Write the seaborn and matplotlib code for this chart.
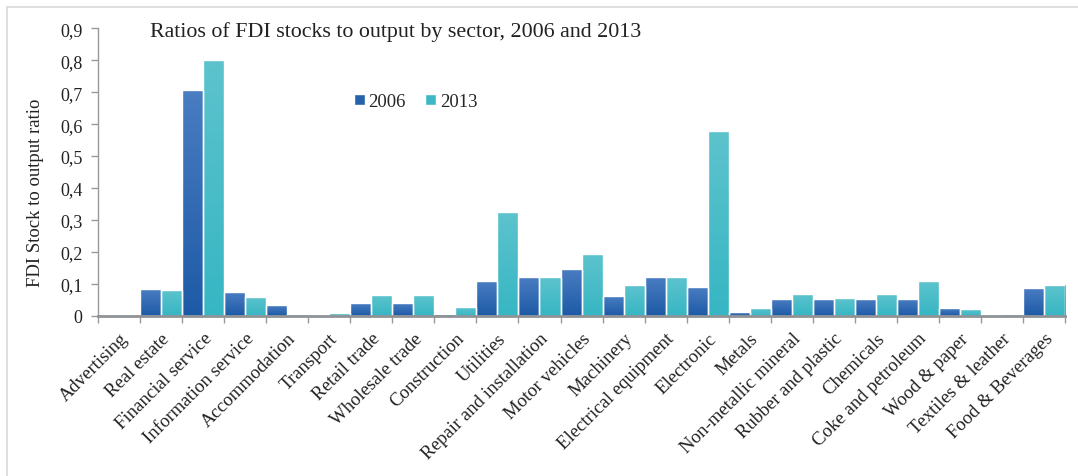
import numpy as np
import pandas as pd
import matplotlib
matplotlib.use("Agg")
import matplotlib.pyplot as plt
import seaborn as sns
from matplotlib.colors import LinearSegmentedColormap
from matplotlib.lines import Line2D
from matplotlib.ticker import FuncFormatter, FixedLocator

sectors = [
    "Advertising", "Real estate", "Financial service", "Information service",
    "Accommodation", "Transport", "Retail trade", "Wholesale trade",
    "Construction", "Utilities", "Repair and installation", "Motor vehicles",
    "Machinery", "Electrical equipment", "Electronic", "Metals",
    "Non-metallic mineral", "Rubber and plastic", "Chemicals",
    "Coke and petroleum", "Wood & paper", "Textiles & leather", "Food & Beverages",
]
ratio_2006 = [0.001, 0.084, 0.707, 0.074, 0.034, 0.001, 0.040, 0.040,
              0.005, 0.109, 0.121, 0.146, 0.062, 0.121, 0.090, 0.012,
              0.052, 0.052, 0.052, 0.052, 0.024, 0.001, 0.087]
ratio_2013 = [0.001, 0.080, 0.800, 0.059, 0.005, 0.009, 0.065, 0.065,
              0.027, 0.325, 0.121, 0.193, 0.096, 0.121, 0.578, 0.024,
              0.068, 0.055, 0.068, 0.109, 0.021, 0.005, 0.096]
years = ["2006", "2013"]

df = pd.DataFrame({
    "sector": sectors * 2,
    "year": [years[0]] * len(sectors) + [years[1]] * len(sectors),
    "ratio": ratio_2006 + ratio_2013,
})

sns.set_theme(style="white")
plt.rcParams["font.family"] = ["Liberation Serif", "DejaVu Serif"]

c06 = "#2562ab"
c13 = "#3db9c6"
palette = {"2006": c06, "2013": c13}

fig = plt.figure(figsize=(10.78, 4.77), dpi=100)
ax = fig.add_axes([0.0909, 0.336, 0.8971, 0.6026])

sns.barplot(data=df, x="sector", y="ratio", hue="year", palette=palette,
            width=1.0, gap=0, edgecolor="white", linewidth=1.0,
            saturation=1, ax=ax, legend=True)

# vertical gradient fill on each bar (lighter at the top)
grads = {
    c06: LinearSegmentedColormap.from_list("g06", ["#1d5aa6", "#4a7dc2"]),
    c13: LinearSegmentedColormap.from_list("g13", ["#36b6c3", "#5dc3cd"]),
}
grad_img = np.linspace(0, 1, 256).reshape(-1, 1)
for patch in list(ax.patches):
    fc = matplotlib.colors.to_hex(patch.get_facecolor())
    cmap = grads.get(fc)
    if cmap is None:
        continue
    x0, y0 = patch.get_x(), patch.get_y()
    w, h = patch.get_width(), patch.get_height()
    if h <= 0:
        continue
    im = ax.imshow(grad_img, cmap=cmap, origin="lower", aspect="auto",
                   extent=[x0, x0 + w, y0, y0 + h], zorder=patch.get_zorder() + 0.1,
                   interpolation="bilinear")
    im.set_clip_path(patch)
    edge = plt.Rectangle((x0, y0), w, h, fill=False, edgecolor="white",
                         linewidth=1.0, zorder=patch.get_zorder() + 0.2)
    ax.add_patch(edge)

n = len(sectors)
ax.set_xlim(-0.5, n - 0.5)
ax.set_ylim(0, 0.9)
ax.set_yticks(np.arange(0, 0.91, 0.1))
ax.yaxis.set_major_formatter(FuncFormatter(
    lambda v, p: "0" if abs(v) < 1e-9 else f"{v:.1f}".replace(".", ",")))

ax.set_xticks(range(n))
ax.set_xticklabels(sectors, rotation=45, ha="right", rotation_mode="anchor",
                   fontsize=13.5, color="#222222")
ax.xaxis.set_minor_locator(FixedLocator(np.arange(-0.5, n, 1.0)))
ax.tick_params(axis="x", which="major", length=0, pad=10)
ax.tick_params(axis="x", which="minor", length=5, width=1.0, color="#999999",
               direction="out", bottom=True)
ax.tick_params(axis="y", which="major", length=5, width=1.0, color="#999999",
               direction="out", left=True, labelsize=13, labelcolor="#222222", pad=6)

for s in ["top", "right"]:
    ax.spines[s].set_visible(False)
ax.spines["left"].set_color("#999999")
ax.spines["left"].set_linewidth(1.0)
ax.spines["bottom"].set_color("#8f9396")
ax.spines["bottom"].set_linewidth(2.0)
ax.spines["bottom"].set_zorder(5)

ax.set_xlabel("")
ax.set_ylabel("FDI Stock to output ratio", fontsize=13.5, color="#222222")
ax.yaxis.set_label_coords(-0.056, 0.43)

ax.text(0.054, 1.025, "Ratios of FDI stocks to output by sector, 2006 and 2013",
        transform=ax.transAxes, fontsize=15.8, color="#222222", va="top", ha="left")

leg = ax.legend(loc="center left", bbox_to_anchor=(0.2565, 0.745), ncol=2,
                frameon=False, fontsize=13.5, handlelength=0.6, handleheight=0.6,
                handletextpad=0.2, columnspacing=1.0, borderaxespad=0)

# light frame around the chart area
fig.add_artist(Line2D([7 / 1078, 1.0], [1 - 8 / 477, 1 - 8 / 477],
                      transform=fig.transFigure, color="#d9d9d9", linewidth=1.2))
fig.add_artist(Line2D([7 / 1078, 7 / 1078], [0.0, 1 - 8 / 477],
                      transform=fig.transFigure, color="#d9d9d9", linewidth=1.2))

fig.savefig("out.png", dpi=100, facecolor="white")
